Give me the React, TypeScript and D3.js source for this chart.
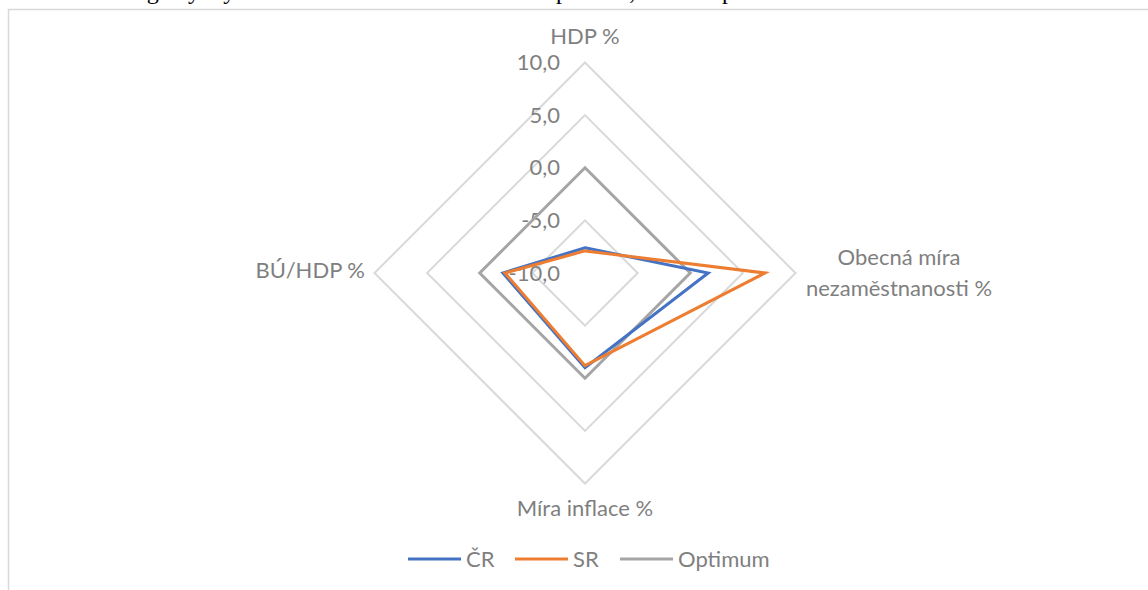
import React, { useEffect, useRef } from 'react';
import * as d3 from 'd3';

const axes = ['HDP %', 'Obecná míra nezaměstnanosti %', 'Míra inflace %', 'BÚ/HDP %'];
const seriesNames = ['ČR', 'SR', 'Optimum'];
const crValues = [-7.6, 1.7, -1.0, -2.2];
const srValues = [-7.9, 7.1, -1.2, -2.4];
const optimumValues = [0, 0, 0, 0];
const ticks = [-10, -5, 0, 5, 10];
const colors = ['#4472C4', '#ED7D31', '#A5A5A5'];

const W = 1148;
const H = 590;

export default function App() {
  const ref = useRef<SVGSVGElement>(null);

  useEffect(() => {
    const svg = d3.select(ref.current);
    svg.selectAll('*').remove();

    const cx = 585;
    const cy = 273;
    const font = 'Lato, "Open Sans", sans-serif';
    const textColor = '#7f7f7f';

    // document text cut at the top of the page
    svg.append('text')
      .attr('x', 40)
      .attr('y', -1)
      .attr('font-family', '"Liberation Serif", serif')
      .attr('font-size', 24)
      .attr('fill', '#000')
      .text('Graf 1: Magický čtyřúhelník ČR a SR ve srovnání s optimem, vlastní zpracování');

    // chart border
    svg.append('rect')
      .attr('x', 8.5)
      .attr('y', 9.5)
      .attr('width', W)
      .attr('height', H)
      .attr('fill', 'none')
      .attr('stroke', '#d9d9d9')
      .attr('stroke-width', 1.5);

    const r = d3.scaleLinear().domain([-10, 10]).range([0, 210.5]);
    const angle = (i: number) => (i * 2 * Math.PI) / axes.length;
    const pt = (i: number, v: number): [number, number] => [
      cx + r(v) * Math.sin(angle(i)),
      cy - r(v) * Math.cos(angle(i)),
    ];

    const g = svg.append('g');

    // grid rings
    ticks.filter(t => t > -10).forEach(t => {
      const pts = axes.map((_, i) => pt(i, t));
      g.append('path')
        .attr('d', d3.line()(pts) + 'Z')
        .attr('fill', 'none')
        .attr('stroke', '#d9d9d9')
        .attr('stroke-width', 2);
    });

    // tick labels
    ticks.forEach(t => {
      const [, y] = pt(0, t);
      g.append('text')
        .attr('x', cx - 25)
        .attr('y', y + 7.5)
        .attr('text-anchor', 'end')
        .attr('font-family', font)
        .attr('font-size', 22)
        .attr('fill', textColor)
        .text(d3.format('.1f')(t).replace('.', ',').replace('\u2212', '-'));
    });

    // series
    const data = [optimumValues, crValues, srValues];
    const dataColors = [colors[2], colors[0], colors[1]];
    data.forEach((vals, k) => {
      const pts = vals.map((v, i) => pt(i, v));
      g.append('path')
        .attr('d', d3.line()(pts) + 'Z')
        .attr('fill', 'none')
        .attr('stroke', dataColors[k])
        .attr('stroke-width', 3)
        .attr('stroke-linejoin', 'miter');
    });

    // axis labels
    const label = (x: number, y: number, anchor: string, lines: string[]) => {
      const t = g.append('text')
        .attr('text-anchor', anchor)
        .attr('font-family', font)
        .attr('font-size', 22)
        .attr('fill', textColor);
      lines.forEach((l, i) => {
        t.append('tspan').attr('x', x).attr('y', y + i * 31).text(l);
      });
    };
    label(cx, 44, 'middle', [axes[0]]);
    label(899, 265, 'middle', ['Obecná míra', 'nezaměstnanosti %']);
    label(cx, 516, 'middle', [axes[2]]);
    label(365, 278, 'end', [axes[3]]);

    // legend
    const legendX = [408, 515, 620];
    seriesNames.forEach((name, i) => {
      const lg = g.append('g').attr('transform', `translate(${legendX[i]},559)`);
      lg.append('line')
        .attr('x1', 0).attr('x2', 53)
        .attr('stroke', colors[i])
        .attr('stroke-width', 3);
      lg.append('text')
        .attr('x', 58)
        .attr('y', 8)
        .attr('font-family', font)
        .attr('font-size', 22)
        .attr('fill', textColor)
        .text(name);
    });
  }, []);

  return (
    <svg ref={ref} width={W} height={H} style={{ position: 'fixed', left: 0, top: 0, background: '#fff' }} />
  );
}
